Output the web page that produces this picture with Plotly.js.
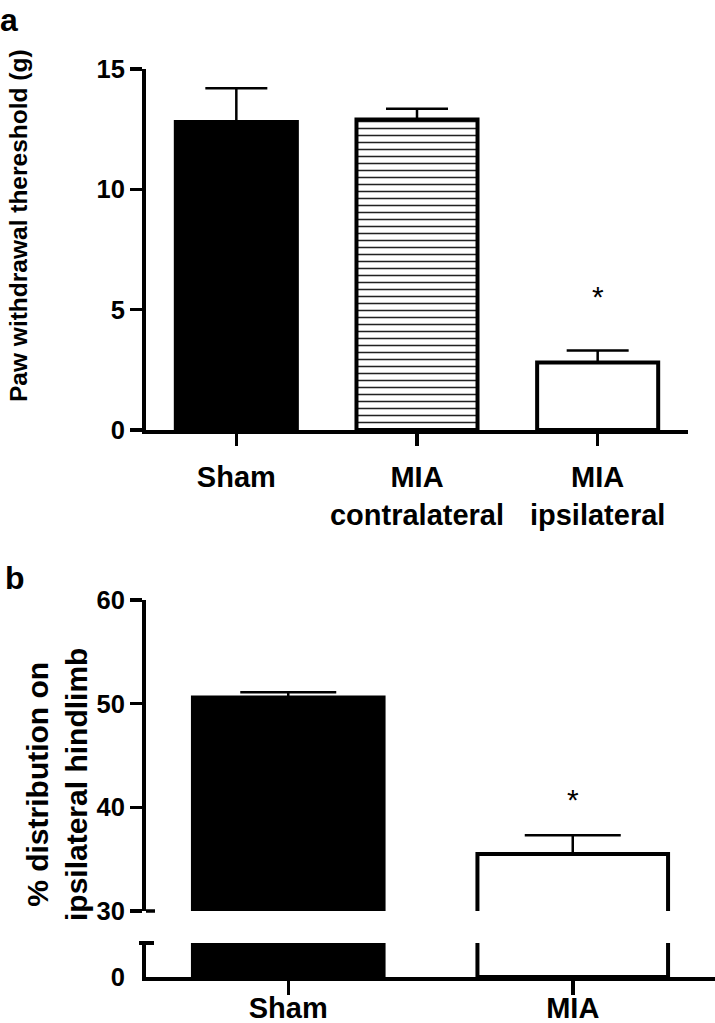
<!DOCTYPE html>
<html><head><meta charset="utf-8">
<script src="https://cdn.plot.ly/plotly-3.0.1.min.js"></script>
<style>html,body{margin:0;padding:0;background:#fff}#chart{width:715px;height:1023px}</style>
</head><body><div id="chart"></div>
<script>
// ---- data ----
const catsA = ['Sham', 'MIA<br>contralateral', 'MIA<br>ipsilateral'];
const meanA = [12.8, 12.9, 2.8];
const semA  = [1.4, 0.45, 0.5];
const sigA  = ['', '', '*'];
const tickValsA = [0, 5, 10, 15];

const catsB = ['Sham', 'MIA'];
const meanB = [50.6, 35.5];
const semB  = [0.5, 1.8];
const sigB  = ['', '*'];
const tickValsB = [30, 40, 50, 60];

// ---- styles ----
const fillA = ['#000', '#fff', '#fff'];
const patternA = ['', '-', ''];
const fillB = ['#000', '#fff'];

// ---- helpers ----
const W = 715, H = 1023;
const px = v => v / W;
const py = v => 1 - v / H;
const FONT = 'Liberation Sans, Arial, Helvetica, sans-serif';
const bold = (s) => ({family: FONT, size: s, color: '#000', weight: 'bold'});
const barLine = {color: '#000', width: 4};

const traces = [];
catsA.forEach((c, i) => {
  const marker = {color: fillA[i], line: barLine};
  if (patternA[i]) marker.pattern = {shape: patternA[i], size: 7, solidity: 0.22,
                                     fgcolor: '#222', bgcolor: '#fff', fgopacity: 1, fillmode: 'replace'};
  traces.push({
    type: 'bar', x: [c], y: [meanA[i]], xaxis: 'x', yaxis: 'y', width: 0.67, marker: marker,
    error_y: {type: 'data', array: [semA[i]], arrayminus: [0], symmetric: false,
              thickness: 2.5, width: 31, color: '#000'},
    hoverinfo: 'skip', showlegend: false
  });
});
catsB.forEach((c, i) => {
  traces.push({
    type: 'bar', x: [c], y: [meanB[i]], xaxis: 'x2', yaxis: 'y3', width: 0.67,
    marker: {color: fillB[i], line: barLine},
    error_y: {type: 'data', array: [semB[i]], arrayminus: [0], symmetric: false,
              thickness: 2.5, width: 48, color: '#000'},
    hoverinfo: 'skip', showlegend: false
  });
  traces.push({
    type: 'bar', x: [c], y: [meanB[i]], xaxis: 'x2', yaxis: 'y4', width: 0.67,
    marker: {color: fillB[i], line: barLine},
    hoverinfo: 'skip', showlegend: false
  });
});

const axBase = {
  showline: true, linecolor: '#000', linewidth: 4, showgrid: false, zeroline: false,
  ticks: 'outside', ticklen: 12, tickwidth: 3.5, tickcolor: '#000', fixedrange: true
};

const annotations = [];
catsA.forEach((c, i) => {
  if (sigA[i]) annotations.push({xref: 'x', yref: 'y', x: c, y: meanA[i] + semA[i], text: sigA[i],
    showarrow: false, yanchor: 'bottom', yshift: 36, font: {family: FONT, size: 30, color: '#000'}});
});
catsB.forEach((c, i) => {
  if (sigB[i]) annotations.push({xref: 'x2', yref: 'y3', x: c, y: meanB[i] + semB[i], text: sigB[i],
    showarrow: false, yanchor: 'bottom', yshift: 17, font: {family: FONT, size: 30, color: '#000'}});
});
annotations.push(
  {xref: 'paper', yref: 'paper', x: px(18), y: py(226), text: 'Paw withdrawal thereshold (g)', textangle: -90,
   showarrow: false, xanchor: 'center', yanchor: 'middle', font: bold(24.5)},
  {xref: 'paper', yref: 'paper', x: px(57), y: py(785), text: '% distribution on<br>ipsilateral hindlimb', textangle: -90,
   showarrow: false, xanchor: 'center', yanchor: 'middle', font: bold(30)},
  {xref: 'paper', yref: 'paper', x: px(-2), y: 1, text: 'a', showarrow: false,
   xanchor: 'left', yanchor: 'top', font: bold(32)},
  {xref: 'paper', yref: 'paper', x: px(3), y: py(558), text: 'b', showarrow: false,
   xanchor: 'left', yanchor: 'top', font: bold(32)}
);

const shapes = [
  {type: 'line', xref: 'paper', yref: 'paper', x0: px(139), x1: px(154), y0: py(943), y1: py(943),
   line: {color: '#000', width: 4}},
  {type: 'line', xref: 'paper', yref: 'paper', x0: px(146), x1: px(155), y0: py(911), y1: py(911),
   line: {color: '#000', width: 3.5}}
];

const layout = {
  width: W, height: H, margin: {l: 0, r: 0, t: 0, b: 0},
  paper_bgcolor: '#fff', plot_bgcolor: 'rgba(0,0,0,0)',
  font: {family: FONT, color: '#000'},
  barmode: 'overlay', showlegend: false,
  xaxis: Object.assign({}, axBase, {domain: [px(146), px(688)], range: [-0.5, 2.5], anchor: 'y',
    type: 'category', categoryorder: 'array', categoryarray: catsA,
    tickfont: bold(29), ticklen: 12, ticklabelstandoff: 6}),
  yaxis: Object.assign({}, axBase, {domain: [py(430), py(69)], range: [0, 15], anchor: 'x',
    tickvals: tickValsA, ticktext: tickValsA.map(String), tickfont: bold(25.5)}),
  xaxis2: Object.assign({}, axBase, {domain: [px(146), 1], range: [-0.5, 1.5], anchor: 'y4',
    type: 'category', categoryorder: 'array', categoryarray: catsB,
    tickfont: bold(29), ticklen: 14, ticklabelstandoff: -12}),
  yaxis3: Object.assign({}, axBase, {domain: [py(911), py(600)], range: [30, 60], anchor: 'x2',
    tickvals: tickValsB, ticktext: tickValsB.map(String), tickfont: bold(25.5)}),
  yaxis4: Object.assign({}, axBase, {domain: [py(977), py(943)], range: [0, 3], anchor: 'x2',
    tickvals: [0], ticktext: ['0'], tickcolor: 'rgba(0,0,0,0)', tickfont: bold(25.5)}),
  annotations: annotations,
  shapes: shapes
};

Plotly.newPlot('chart', traces, layout, {displayModeBar: false, staticPlot: true});
</script>
</body></html>
